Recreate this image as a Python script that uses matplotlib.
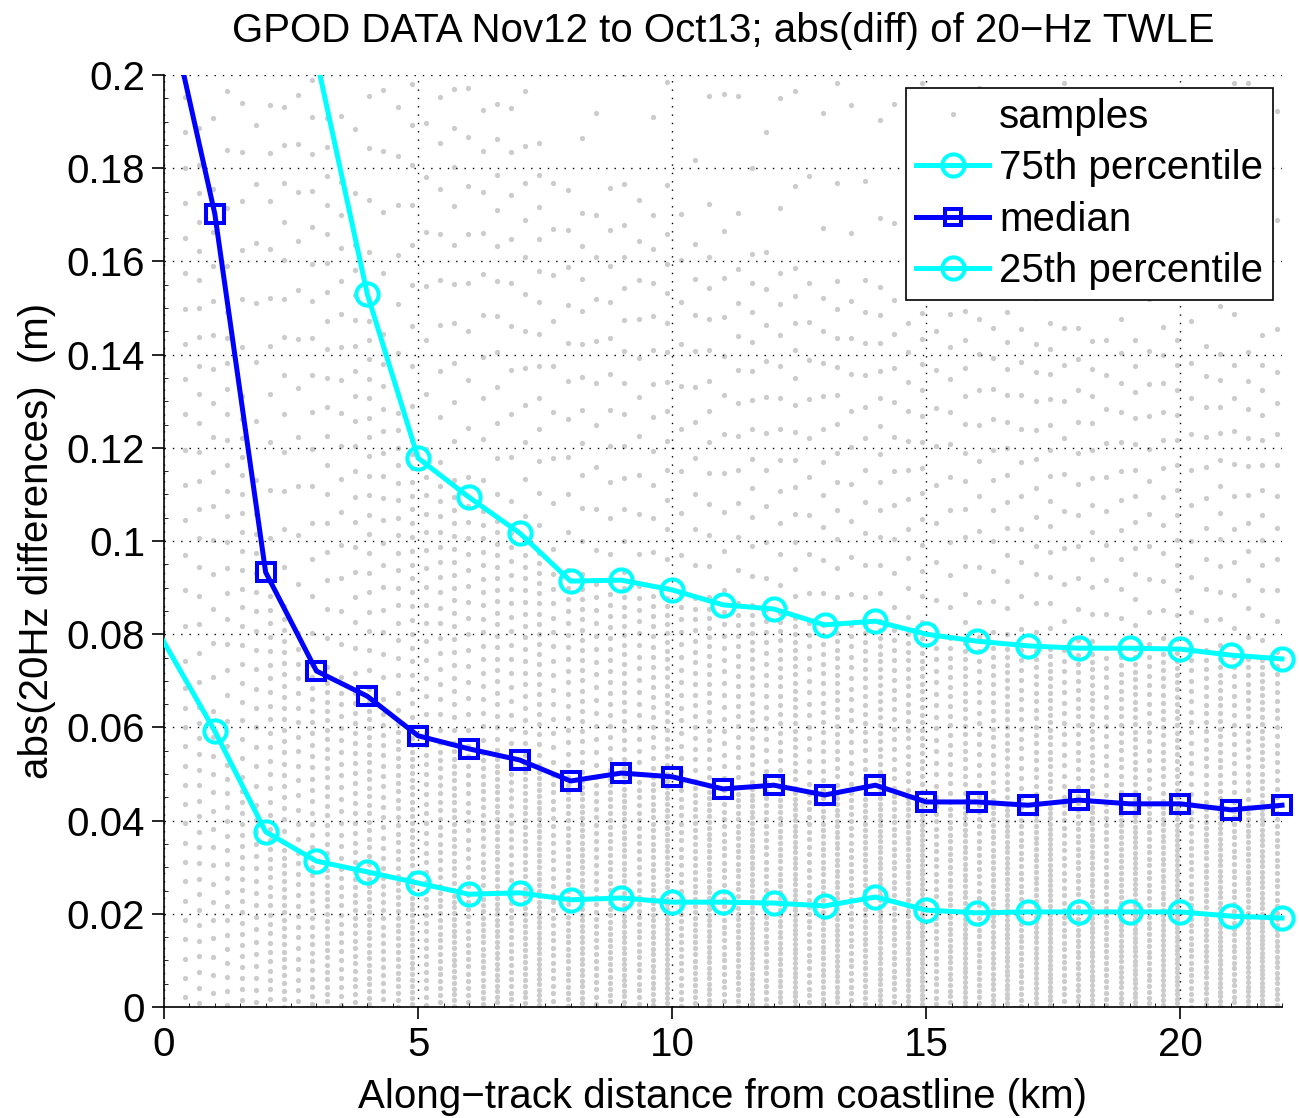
import numpy as np
import matplotlib
matplotlib.use("Agg")
import matplotlib.pyplot as plt
from matplotlib.lines import Line2D
from matplotlib.patches import Rectangle
from matplotlib.ticker import MultipleLocator, FuncFormatter

plt.rcParams['font.family'] = ['Liberation Sans', 'DejaVu Sans']

# ---------------- data ----------------
dist_km = [-1, 1, 2, 3, 4, 5, 6, 7, 8, 9, 10, 11, 12, 13, 14, 15, 16, 17, 18, 19, 20, 21, 22]
p75 = [0.60, 0.40, 0.29, 0.2035, 0.153, 0.1178, 0.1094, 0.1017, 0.0914, 0.0916, 0.0895,
       0.0863, 0.0854, 0.0820, 0.0828, 0.0800, 0.0785, 0.0775, 0.0770, 0.0770, 0.0768, 0.0755, 0.0747]
median = [0.268, 0.1702, 0.0933, 0.0721, 0.0667, 0.0582, 0.0554, 0.0530, 0.0485, 0.0502, 0.0494,
          0.0468, 0.0476, 0.0455, 0.0476, 0.0440, 0.0440, 0.0433, 0.0444, 0.0436, 0.0436, 0.0423, 0.0433]
p25 = [0.0974, 0.0592, 0.0376, 0.0313, 0.0290, 0.0266, 0.0242, 0.0245, 0.0230, 0.0234, 0.0225,
       0.0225, 0.0223, 0.0217, 0.0236, 0.0208, 0.0202, 0.0204, 0.0204, 0.0204, 0.0204, 0.0195, 0.0191]

# along-track positions of the 20-Hz sample columns (km)
sample_cols = np.arange(0.41, 22.0, 0.279)
# quantile shape of samples between the read percentiles (prob level -> value)
tail_levels = [0.0, 0.25, 0.5, 0.75, 0.9, 1.0]


def vdc(n, base):
    """van der Corput low-discrepancy value (deterministic)."""
    v, denom = 0.0, 1.0
    while n:
        n, rem = divmod(n, base)
        denom *= base
        v += rem / denom
    return v


# ---------------- figure ----------------
W, H = 1299, 1118
fig = plt.figure(figsize=(W / 100, H / 100), dpi=100)
ax = fig.add_axes([164 / W, (H - 1007) / H, (1282 - 164) / W, (1007 - 75) / H])

# samples: placed at quantile levels of each column's distribution
sx, sy = [], []
for k, xc in enumerate(sample_cols):
    q25 = np.interp(xc, dist_km, p25)
    q50 = np.interp(xc, dist_km, median)
    q75 = np.interp(xc, dist_km, p75)
    vals = [0.0, q25, q50, q75, q75 * 1.9, q75 * 4.0]
    n = 58 + int(30 * vdc(k + 1, 3))
    phase = vdc(k + 1, 2)
    levels = (np.arange(n) + phase) / n
    ys = np.interp(levels, tail_levels, vals)
    sx.extend([xc] * len(ys))
    sy.extend(ys)
ax.plot(sx, sy, linestyle='none', marker='o', markersize=3.8, color='#cccccc',
        markeredgewidth=0, zorder=1)

clip = Rectangle((0, 0), 1.04, 1.0, transform=ax.transAxes, facecolor='none', edgecolor='none')
ax.add_patch(clip)
clip.set_visible(False)

lw, ms_o, ms_s, mew = 3.6, 16, 13, 2.9
l1, = ax.plot(dist_km, p75, color='cyan', lw=lw, marker='o', markersize=ms_o,
              markerfacecolor='none', markeredgewidth=mew, zorder=3)
l2, = ax.plot(dist_km, median, color='blue', lw=lw, marker='s', markersize=ms_s,
              markerfacecolor='none', markeredgewidth=mew, zorder=4)
l3, = ax.plot(dist_km, p25, color='cyan', lw=lw, marker='o', markersize=ms_o,
              markerfacecolor='none', markeredgewidth=mew, zorder=3)
for ln in (l1, l2, l3):
    ln.set_clip_path(clip)

ax.set_xlim(0, 22)
ax.set_ylim(0, 0.2)
ax.xaxis.set_major_locator(MultipleLocator(5))
ax.xaxis.set_minor_locator(MultipleLocator(0.5))
ax.yaxis.set_major_locator(MultipleLocator(0.02))
ax.yaxis.set_minor_locator(MultipleLocator(0.005))
ax.yaxis.set_major_formatter(FuncFormatter(lambda v, p: f"{v:g}"))
ax.xaxis.set_major_formatter(FuncFormatter(lambda v, p: f"{v:g}"))
ax.tick_params(which='major', direction='out', length=8.5, width=1.2, labelsize=29, pad=5)
ax.tick_params(which='minor', direction='in', length=3, width=0.6)
for s in ('top', 'right'):
    ax.spines[s].set_visible(False)
for s in ('left', 'bottom'):
    ax.spines[s].set_linewidth(1.2)
ax.grid(True, which='major', linestyle=(0, (1, 5)), color='black', linewidth=1.0)
ax.set_axisbelow(False)

ax.set_title('GPOD DATA Nov12 to Oct13; abs(diff) of 20\u2212Hz TWLE', fontsize=29, pad=24)
ax.set_xlabel('Along\u2212track distance from coastline (km)', fontsize=29, labelpad=10)
ax.set_ylabel('abs(20Hz differences)  (m)', fontsize=29, labelpad=8)

handles = [
    Line2D([], [], linestyle='none', marker='o', markersize=3.8, color='#cccccc', markeredgewidth=0),
    Line2D([], [], color='cyan', lw=lw, marker='o', markersize=ms_o, markerfacecolor='none', markeredgewidth=mew),
    Line2D([], [], color='blue', lw=lw, marker='s', markersize=11, markerfacecolor='none', markeredgewidth=mew),
    Line2D([], [], color='cyan', lw=lw, marker='o', markersize=ms_o, markerfacecolor='none', markeredgewidth=mew),
]
labels = ['samples', '75th percentile', 'median', '25th percentile']
leg = ax.legend(handles, labels, loc='upper right', bbox_to_anchor=(0.992, 0.986), borderaxespad=0,
                fontsize=29, frameon=True, fancybox=False, edgecolor='black', framealpha=1,
                handlelength=1.8, handletextpad=0.25, borderpad=0.25, labelspacing=0.33, numpoints=1)
leg.get_frame().set_linewidth(1.2)
leg.set_zorder(10)

fig.savefig('out.png', dpi=100)
